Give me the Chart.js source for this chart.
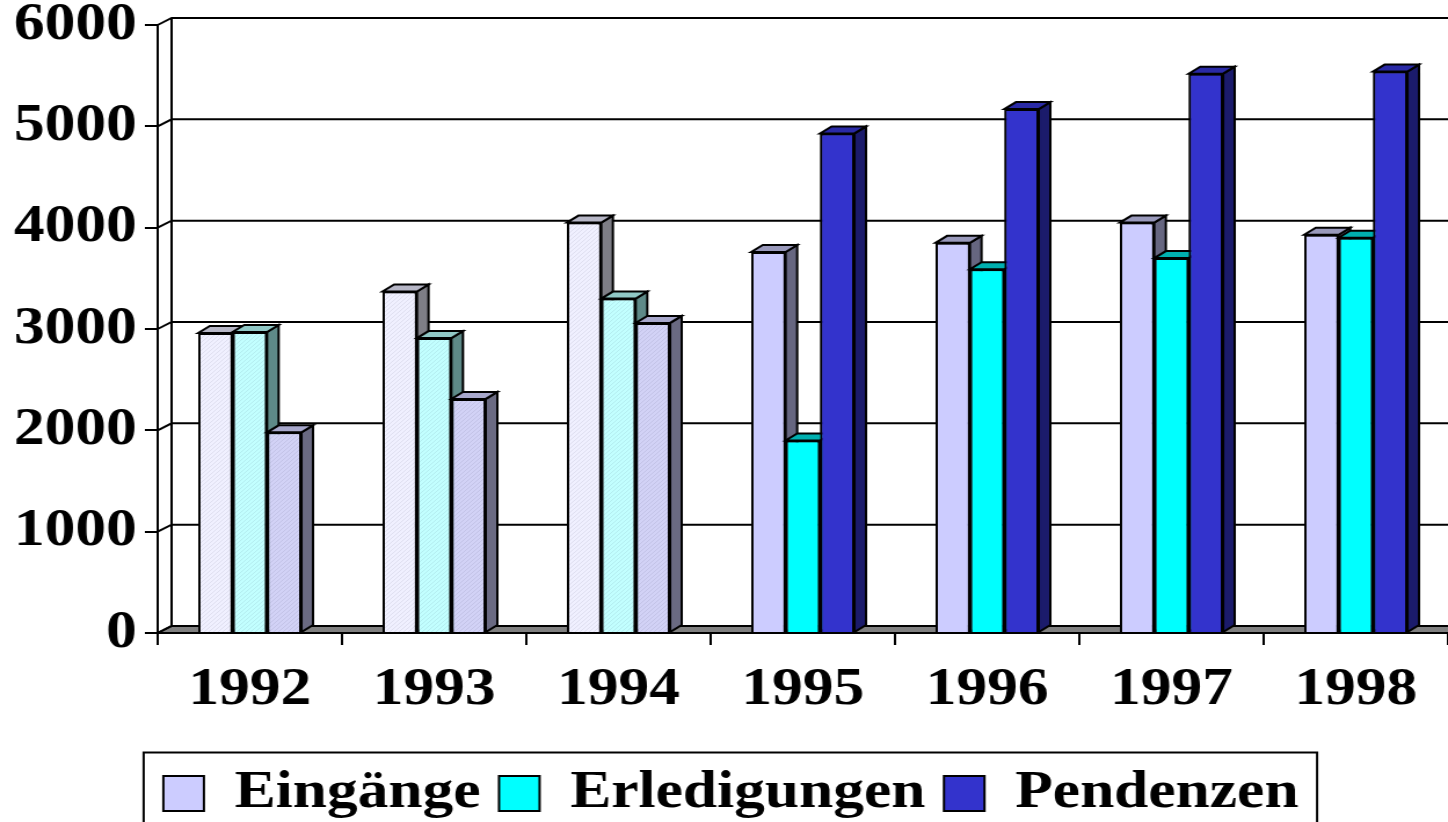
<!DOCTYPE html>
<html><head><meta charset="utf-8">
<script src="https://cdn.jsdelivr.net/npm/chart.js@4.4.1/dist/chart.umd.min.js"></script>
<style>
html,body{margin:0;padding:0;background:#fff;overflow:hidden;width:1448px;height:822px;}
#wrap{width:1249px;height:830px;transform:scaleX(1.1593);transform-origin:0 0;}
canvas{display:block;}
</style></head><body>
<div id="wrap"><canvas id="c" width="1249" height="830"></canvas></div>
<script>
// ---- data ----
const categories = ['1992', '1993', '1994', '1995', '1996', '1997', '1998'];
const seriesNames = ['Eingänge', 'Erledigungen', 'Pendenzen'];
const eingaenge    = [2960, 3370, 4050, 3760, 3850, 4050, 3930];
const erledigungen = [2970, 2910, 3300, 1900, 3590, 3700, 3900];
const pendenzen    = [1980, 2310, 3060, 4930, 5170, 5520, 5540];
const yTickValues  = [0, 1000, 2000, 3000, 4000, 5000, 6000];

// ---- styles ----
const FONT = "'Liberation Serif', 'Times New Roman', serif";
const FACE = ['#CCCCFF', '#00FFFF', '#3333CC'];
const SIDE = ['#666680', '#008080', '#1B1B6B'];
const TOP  = ['#9999BB', '#00B0B0', '#2A2AA6'];
const PALE_FACE = ['#F0F0FF', '#C2FFFF', '#D2D2F6'];
const PALE_SIDE = ['#7E7E86', '#5E8A88', '#6A6A82'];
const PALE_TOP  = ['#B6B6C6', '#90C8C6', '#A8A8CC'];
const PALE_COUNT = 3;           // first categories are shown washed out
const BAR_DX = 10, BAR_DY = 7;  // bar depth
const WALL_DX = 12, WALL_DY = 7; // wall / floor depth

const canvas = document.getElementById('c');
const c2d = canvas.getContext('2d');
function hatch(base) {
  const t = document.createElement('canvas');
  t.width = 4; t.height = 4;
  const g = t.getContext('2d');
  g.fillStyle = base; g.fillRect(0, 0, 4, 4);
  g.fillStyle = 'rgba(0,0,40,0.07)';
  g.fillRect(0, 3, 1, 1); g.fillRect(1, 2, 1, 1); g.fillRect(2, 1, 1, 1); g.fillRect(3, 0, 1, 1);
  return c2d.createPattern(t, 'repeat');
}
const PALE_PATTERN = PALE_FACE.map(hatch);
const seriesData = [eingaenge, erledigungen, pendenzen];

function poly(ctx, pts, fill) {
  ctx.beginPath();
  ctx.moveTo(pts[0][0], pts[0][1]);
  for (let k = 1; k < pts.length; k++) ctx.lineTo(pts[k][0], pts[k][1]);
  ctx.closePath();
  ctx.fillStyle = fill;
  ctx.fill();
  ctx.stroke();
}

const threeD = {
  id: 'threeD',
  beforeDatasetsDraw(chart) {
    const {ctx, chartArea: a, scales: {y}} = chart;
    ctx.save();
    ctx.lineWidth = 2; ctx.strokeStyle = '#000'; ctx.lineJoin = 'miter';
    // floor
    poly(ctx, [[a.left, a.bottom], [a.right + 40, a.bottom], [a.right + 40 + WALL_DX, a.bottom - WALL_DY], [a.left + WALL_DX, a.bottom - WALL_DY]], '#808080');
    // back wall grid lines + left wall diagonals
    yTickValues.forEach(v => {
      const py = y.getPixelForValue(v);
      ctx.beginPath();
      ctx.moveTo(a.left, py);
      ctx.lineTo(a.left + WALL_DX, py - WALL_DY);
      ctx.lineTo(a.right + 40, py - WALL_DY);
      ctx.stroke();
    });
    ctx.beginPath();
    ctx.moveTo(a.left + WALL_DX, y.getPixelForValue(yTickValues[yTickValues.length - 1]) - WALL_DY);
    ctx.lineTo(a.left + WALL_DX, a.bottom - WALL_DY);
    ctx.stroke();
    ctx.restore();
  },
  afterDatasetsDraw(chart) {
    // redraw bars left to right so each bar covers the side face of its left neighbour
    const ctx = chart.ctx;
    const metas = chart.getSortedVisibleDatasetMetas().slice().sort((a, b) => a.index - b.index);
    const n = chart.data.labels.length;
    for (let j = 0; j < n; j++) {
      metas.forEach(meta => {
        const i = meta.index;
        const bar = meta.data[j];
        if (!bar) return;
        bar.draw(ctx);
        ctx.save();
        ctx.lineWidth = 2; ctx.strokeStyle = '#000'; ctx.lineJoin = 'miter';
        const p = bar.getProps(['x', 'y', 'base', 'width'], true);
        const x0 = p.x - p.width / 2, x1 = p.x + p.width / 2;
        const pale = j < PALE_COUNT;
        poly(ctx, [[x1, p.y], [x1 + BAR_DX, p.y - BAR_DY], [x1 + BAR_DX, p.base - BAR_DY], [x1, p.base]], pale ? PALE_SIDE[i] : SIDE[i]);
        poly(ctx, [[x0, p.y], [x1, p.y], [x1 + BAR_DX, p.y - BAR_DY], [x0 + BAR_DX, p.y - BAR_DY]], pale ? PALE_TOP[i] : TOP[i]);
        ctx.restore();
      });
    }
  },
  afterDraw(chart) {
    const lg = chart.legend;
    if (!lg || !lg.legendHitBoxes || !lg.legendHitBoxes.length) return;
    const hb = lg.legendHitBoxes;
    const first = hb[0], last = hb[hb.length - 1];
    const left = first.left - 17, right = last.left + last.width + 16;
    const cy = first.top + first.height / 2;
    const ctx = chart.ctx;
    ctx.save();
    ctx.lineWidth = 2; ctx.strokeStyle = '#000';
    ctx.strokeRect(left, cy - 41, right - left, 90);
    ctx.restore();
  }
};

new Chart(canvas, {
  type: 'bar',
  data: {
    labels: categories,
    datasets: seriesNames.map((name, i) => ({
      label: name,
      data: seriesData[i],
      backgroundColor: (ctx) => (ctx.type === 'data' && ctx.dataIndex < PALE_COUNT) ? PALE_PATTERN[i] : FACE[i],
      borderColor: '#000',
      borderWidth: 2,
      categoryPercentage: 0.56,
      barPercentage: 1.0,
      clip: false
    }))
  },
  options: {
    responsive: false,
    devicePixelRatio: 1,
    animation: false,
    events: [],
    layout: {padding: {left: 12, top: 25, right: 0, bottom: 0}},
    scales: {
      x: {
        ticks: {color: '#000', padding: 19, font: {family: FONT, size: 53, weight: 'bold', lineHeight: 1}},
        grid: {offset: true, drawOnChartArea: false, drawTicks: true, tickLength: 12, color: '#000', lineWidth: 2},
        border: {display: true, color: '#000', width: 2, z: 1},
        afterFit: (s) => { s.height = 118; }
      },
      y: {
        min: 0, max: 6000,
        afterBuildTicks: (s) => { s.ticks = yTickValues.map(v => ({value: v})); },
        ticks: {color: '#000', padding: 7, font: {family: FONT, size: 53, weight: 'bold', lineHeight: 0.6}, callback: (v) => String(v)},
        grid: {drawOnChartArea: false, drawTicks: true, tickLength: 11, color: '#000', lineWidth: 2},
        border: {display: true, color: '#000', width: 2, z: 1},
        afterFit: (s) => { s.width = 124; }
      }
    },
    plugins: {
      legend: {
        position: 'bottom',
        labels: {
          boxWidth: 35, boxHeight: 35, padding: 16, color: '#000',
          font: {family: FONT, size: 53, weight: 'bold', lineHeight: 1},
          generateLabels: (chart) => Chart.defaults.plugins.legend.labels.generateLabels(chart).map((item, i) => Object.assign(item, {fillStyle: FACE[i], strokeStyle: '#000', lineWidth: 2}))
        }
      },
      tooltip: {enabled: false}
    }
  },
  plugins: [threeD]
});
</script>
</body></html>
